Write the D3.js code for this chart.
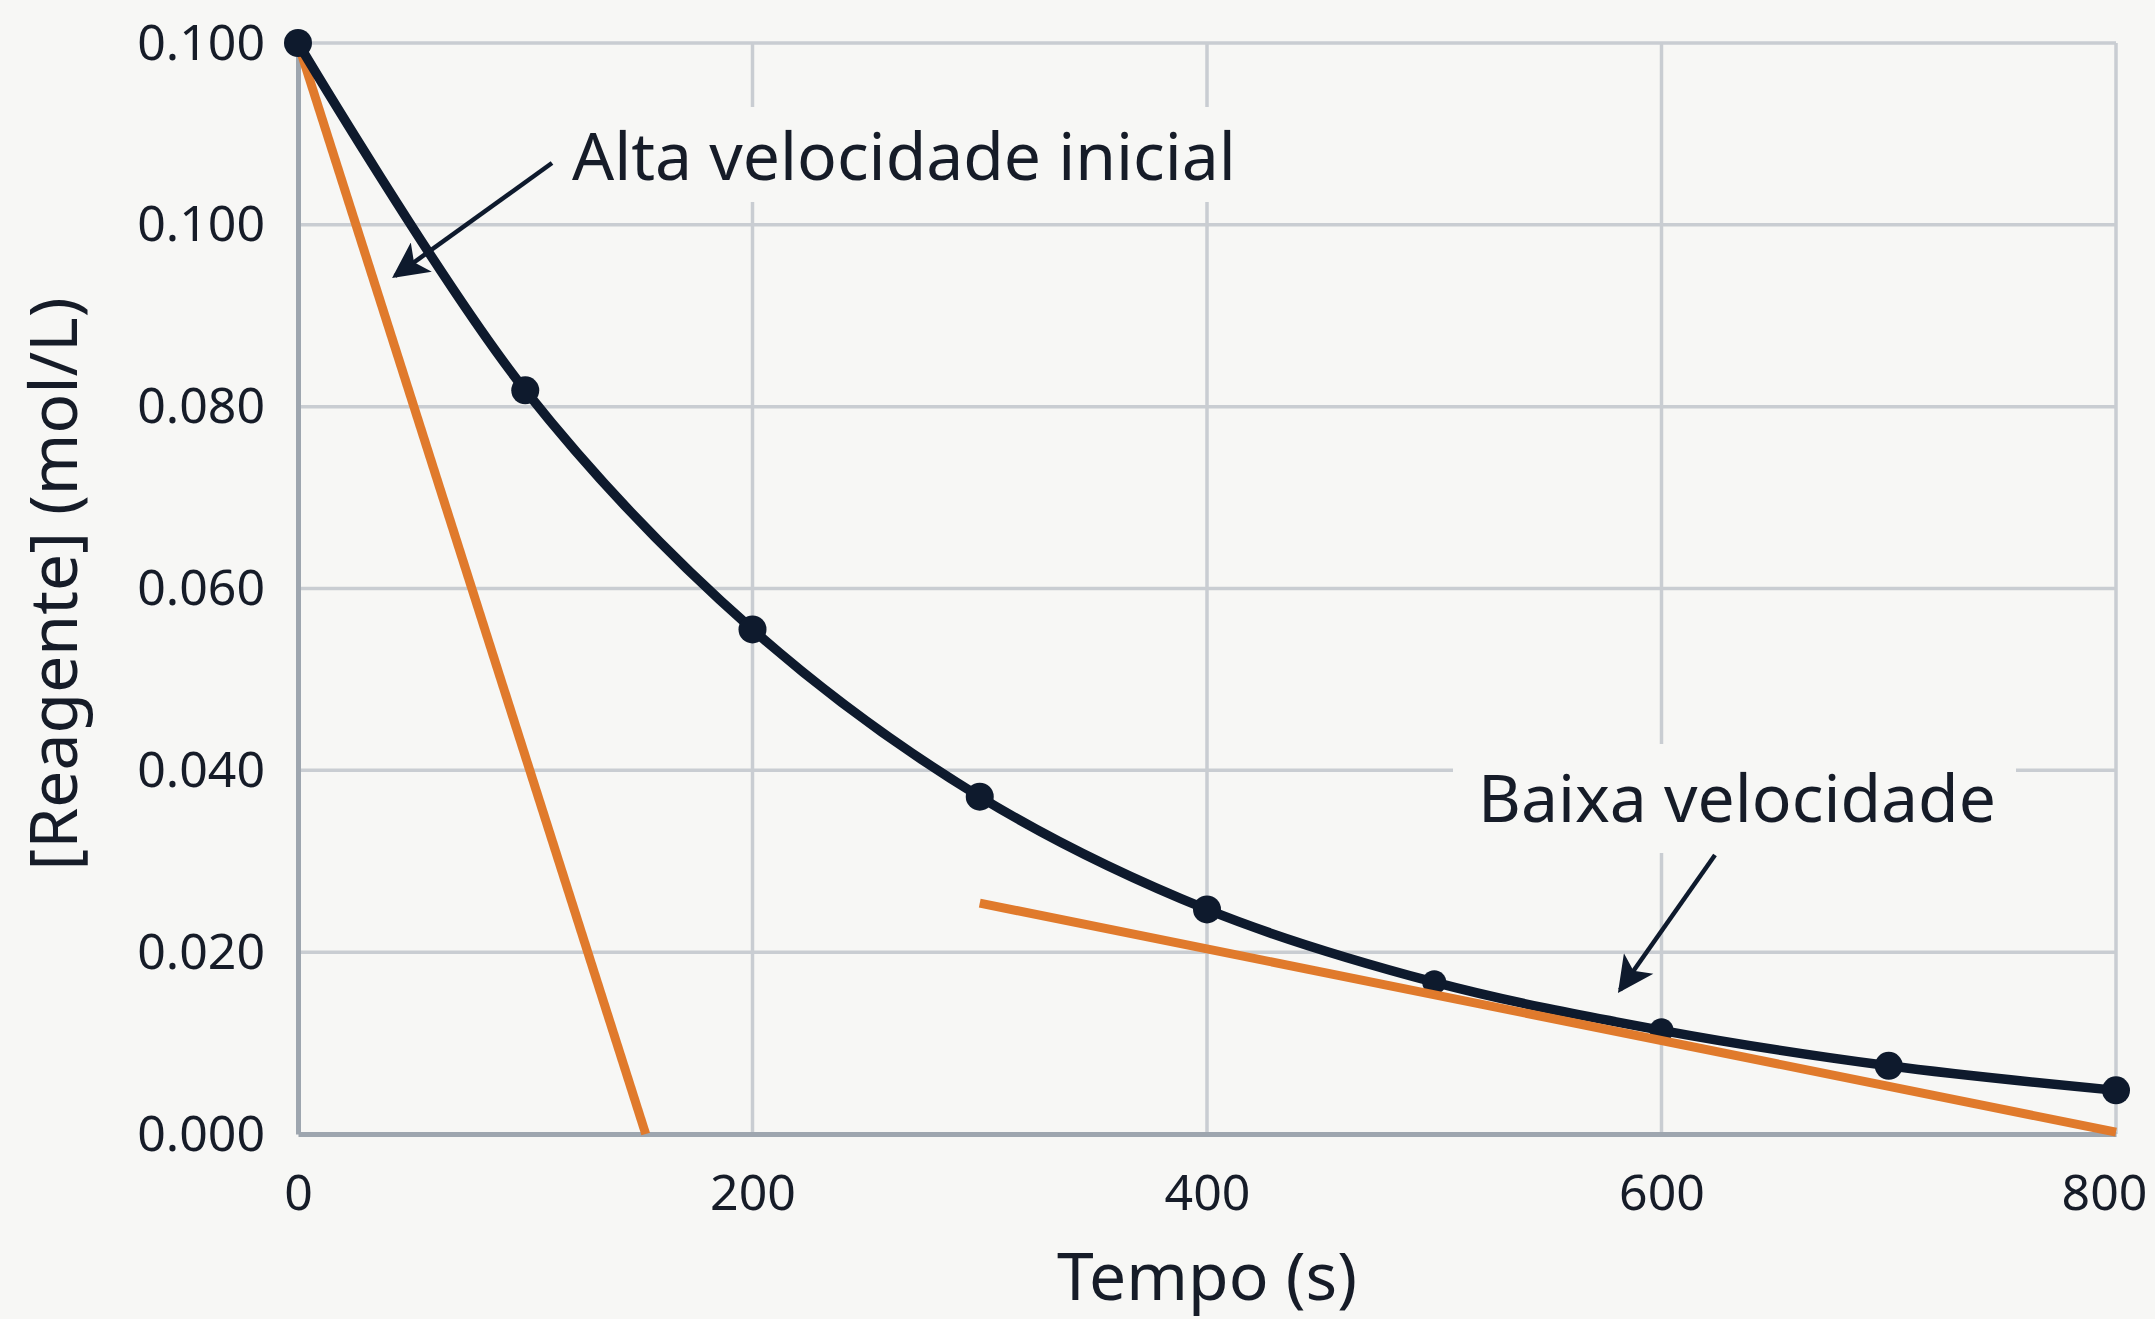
<!DOCTYPE html>
<html>
<head>
<meta charset="utf-8">
<script src="https://cdn.jsdelivr.net/npm/d3@7/dist/d3.min.js"></script>
<style>
  html, body { margin: 0; padding: 0; background: #f7f7f5; }
  svg { display: block; }
  text { font-family: "Noto Sans", "Open Sans", sans-serif; fill: #161c28; }
</style>
</head>
<body>
<svg id="chart" width="2155" height="1319"></svg>
<script>
// ---- Data ----
const times = [0, 100, 200, 300, 400, 500, 600, 700, 800];
const concentrations = [0.120, 0.0818, 0.0555, 0.0371, 0.0247, 0.0167, 0.0114, 0.0075, 0.0048];
const tangentInitial = [[0, 0.120], [153, 0.000]];
const tangentLate = [[300, 0.0254], [800, 0.0002]];
const yTickValues = [0, 0.02, 0.04, 0.06, 0.08, 0.10, 0.12];
const yTickLabels = ["0.000", "0.020", "0.040", "0.060", "0.080", "0.100", "0.100"];
const xTickValues = [0, 200, 400, 600, 800];
const xTickLabels = ["0", "200", "400", "600", "800"];
const xTitle = "Tempo (s)";
const yTitle = "[Reagente] (mol/L)";
const noteHigh = "Alta velocidade inicial";
const noteLow = "Baixa velocidade";

// ---- Layout ----
const W = 2155, H = 1319;
const margin = { left: 298, right: 39, top: 43, bottom: 185 };
const svg = d3.select("#chart");
const bg = "#f7f7f5";
const navy = "#0e1a2d";
const orange = "#e07a2c";

svg.append("rect").attr("width", W).attr("height", H).attr("fill", bg);

const x = d3.scaleLinear().domain([0, 800]).range([margin.left, W - margin.right]);
const y = d3.scaleLinear().domain([0, 0.12]).range([H - margin.bottom, margin.top]);

// gridlines
const grid = svg.append("g");
grid.selectAll("line.h").data(yTickValues.filter(v => v > 0)).enter().append("line")
  .attr("x1", x(0)).attr("x2", x(800))
  .attr("y1", d => y(d)).attr("y2", d => y(d))
  .attr("stroke", "#c9cdd2").attr("stroke-width", 3.5);
grid.selectAll("line.v").data(xTickValues.filter(v => v > 0)).enter().append("line")
  .attr("x1", d => x(d)).attr("x2", d => x(d))
  .attr("y1", y(0.12)).attr("y2", y(0))
  .attr("stroke", "#c9cdd2").attr("stroke-width", 3.5);

// axes
const yAxis = d3.axisLeft(y).tickValues(yTickValues)
  .tickFormat((d, i) => yTickLabels[i]).tickSize(0).tickPadding(33);
const gy = svg.append("g").attr("transform", `translate(${x(0)},0)`).call(yAxis);
gy.select(".domain").attr("stroke", "#9ea6af").attr("stroke-width", 5);
gy.selectAll("text").style("font-size", "50px").attr("fill", "#161c28");

const xAxis = d3.axisBottom(x).tickValues(xTickValues)
  .tickFormat((d, i) => xTickLabels[i]).tickSize(0).tickPadding(40);
const gx = svg.append("g").attr("transform", `translate(0,${y(0)})`).call(xAxis);
gx.select(".domain").attr("stroke", "#9ea6af").attr("stroke-width", 5);
gx.selectAll("text").style("font-size", "50px").attr("fill", "#161c28")
  .attr("dx", (d, i) => i === xTickValues.length - 1 ? -12 : 0);

// annotation backgrounds
svg.append("rect").attr("x", 560).attr("y", 107).attr("width", 695).attr("height", 95).attr("fill", bg);
svg.append("rect").attr("x", 1453).attr("y", 744).attr("width", 563).attr("height", 109).attr("fill", bg);

// line generators
const line = d3.line().x(d => x(d[0])).y(d => y(d[1]));
const curve = d3.line().x(d => x(d[0])).y(d => y(d[1])).curve(d3.curveCatmullRom.alpha(0.5));

// initial tangent
svg.append("path").datum(tangentInitial).attr("d", line)
  .attr("fill", "none").attr("stroke", orange).attr("stroke-width", 9);

// curve
const pts = times.map((t, i) => [t, concentrations[i]]);
svg.append("path").datum(pts).attr("d", curve)
  .attr("fill", "none").attr("stroke", navy).attr("stroke-width", 9.5).attr("stroke-linejoin", "round");

svg.selectAll("circle.pt").data(pts).enter().append("circle")
  .attr("cx", d => x(d[0])).attr("cy", d => y(d[1]))
  .attr("r", (d, i) => (i === 5 || i === 6) ? 12 : 14)
  .attr("fill", navy);

// late tangent
svg.append("path").datum(tangentLate).attr("d", line)
  .attr("fill", "none").attr("stroke", orange).attr("stroke-width", 9);

// arrows
const defs = svg.append("defs");
defs.append("marker").attr("id", "ah").attr("viewBox", "0 0 10 10")
  .attr("refX", 9).attr("refY", 5).attr("markerWidth", 9).attr("markerHeight", 8)
  .attr("markerUnits", "strokeWidth").attr("orient", "auto")
  .append("path").attr("d", "M0,0 L10,5 L0,10 L2.5,5 Z").attr("fill", navy);

svg.append("line").attr("x1", 552).attr("y1", 163).attr("x2", 395).attr("y2", 276)
  .attr("stroke", navy).attr("stroke-width", 4.5).attr("marker-end", "url(#ah)");
svg.append("line").attr("x1", 1715).attr("y1", 855).attr("x2", 1620).attr("y2", 990)
  .attr("stroke", navy).attr("stroke-width", 4.5).attr("marker-end", "url(#ah)");

// annotation text
svg.append("text").attr("x", 572).attr("y", 180).style("font-size", "66px").text(noteHigh);
svg.append("text").attr("x", 1478).attr("y", 822).style("font-size", "66px").text(noteLow);

// axis titles
svg.append("text").attr("x", (x(0) + x(800)) / 2).attr("y", 1300)
  .attr("text-anchor", "middle").style("font-size", "66px").text(xTitle);
svg.append("text").attr("transform", "translate(77,584) rotate(-90)")
  .attr("text-anchor", "middle").style("font-size", "66px").text(yTitle);
</script>
</body>
</html>
